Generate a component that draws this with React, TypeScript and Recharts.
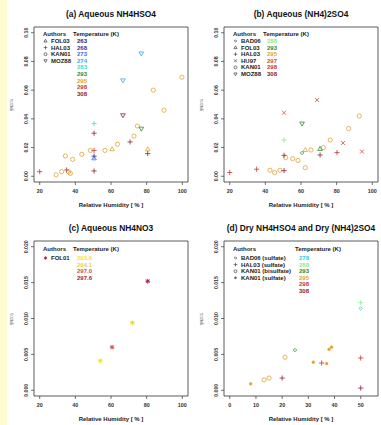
import React from 'react';
import { ScatterChart, Scatter, XAxis, YAxis, ReferenceArea } from 'recharts';

type Pt = { rh: number; g: number; t: number };

// ---------- colours by temperature ----------
const tempColorList: [number, string][] = [
  [263, '#2a2a72'], [268, '#2f3b9c'], [273, '#3f72d8'], [274, '#3aa6e0'], [278, '#38c8e0'],
  [283, '#3de0d0'], [288, '#90ea90'], [293, '#2d8a2d'], [295, '#e2a32e'], [297, '#d44a44'],
  [298, '#c03838'], [308, '#8a2438'], [293.6, '#f0e03a'], [294.1, '#e6d24a'], [297.0, '#d0483a'],
  [297.6, '#a8203c'],
];
const colorOf = (t: number) => (tempColorList.find((c) => c[0] === t) || [0, '#333'])[1];

// ---------- panel (a) Aqueous NH4HSO4 ----------
const aFOL03: Pt[] = [
  { rh: 60.6, g: 0.0188, t: 295 }, { rh: 80.6, g: 0.0188, t: 295 }, { rh: 50.5, g: 0.0125, t: 273 },
];
const aHAL03: Pt[] = [
  { rh: 50.5, g: 0.0367, t: 283 }, { rh: 50.5, g: 0.030, t: 308 }, { rh: 70.7, g: 0.0239, t: 308 },
  { rh: 80.6, g: 0.0158, t: 308 }, { rh: 50.5, g: 0.018, t: 298 }, { rh: 50.5, g: 0.014, t: 268 },
  { rh: 20, g: 0.0032, t: 298 }, { rh: 35.1, g: 0.0044, t: 298 }, { rh: 50.5, g: 0.0037, t: 308 },
];
const aKAN01: Pt[] = [
  { rh: 99.8, g: 0.069, t: 295 }, { rh: 83.7, g: 0.060, t: 295 }, { rh: 89.7, g: 0.046, t: 295 },
  { rh: 74.8, g: 0.035, t: 295 }, { rh: 72.9, g: 0.028, t: 295 }, { rh: 63.6, g: 0.0223, t: 295 },
  { rh: 56.6, g: 0.018, t: 295 }, { rh: 48.4, g: 0.018, t: 295 }, { rh: 43.6, g: 0.0153, t: 295 },
  { rh: 38.5, g: 0.0118, t: 295 }, { rh: 34.4, g: 0.0142, t: 295 }, { rh: 32.3, g: 0.0032, t: 295 },
  { rh: 29.2, g: 0.001, t: 295 }, { rh: 36.2, g: 0.003, t: 295 }, { rh: 37.2, g: 0.002, t: 295 },
];
const aMOZ88: Pt[] = [
  { rh: 77.0, g: 0.0856, t: 274 }, { rh: 66.7, g: 0.0668, t: 274 }, { rh: 66.7, g: 0.0425, t: 308 },
  { rh: 77.0, g: 0.0332, t: 293 },
];

// ---------- panel (b) Aqueous (NH4)2SO4 ----------
const bBAD06: Pt[] = [{ rh: 60.6, g: 0.0162, t: 293 }];
const bFOL03: Pt[] = [{ rh: 62.4, g: 0.0183, t: 295 }, { rh: 70.7, g: 0.019, t: 293 }];
const bHAL03: Pt[] = [
  { rh: 50.5, g: 0.0253, t: 288 }, { rh: 80.2, g: 0.0165, t: 298 }, { rh: 70.7, g: 0.0148, t: 308 },
  { rh: 50.5, g: 0.0146, t: 308 }, { rh: 50.5, g: 0.0039, t: 308 }, { rh: 35.1, g: 0.0049, t: 298 },
  { rh: 20, g: 0.0026, t: 298 },
];
const bHU97: Pt[] = [
  { rh: 69.0, g: 0.0531, t: 297 }, { rh: 50.5, g: 0.0443, t: 297 }, { rh: 83.6, g: 0.0232, t: 297 },
  { rh: 94.2, g: 0.0172, t: 297 },
];
const bKAN01: Pt[] = [
  { rh: 92.7, g: 0.042, t: 295 }, { rh: 86.7, g: 0.0332, t: 295 }, { rh: 76.4, g: 0.0253, t: 295 },
  { rh: 72.5, g: 0.020, t: 295 }, { rh: 65.6, g: 0.0183, t: 295 }, { rh: 51.4, g: 0.013, t: 295 },
  { rh: 55.3, g: 0.0123, t: 295 }, { rh: 58.3, g: 0.011, t: 295 }, { rh: 62.4, g: 0.006, t: 295 },
  { rh: 42.6, g: 0.0042, t: 295 }, { rh: 45.2, g: 0.0026, t: 295 }, { rh: 48.2, g: 0.0042, t: 295 },
];
const bMOZ88: Pt[] = [{ rh: 60.6, g: 0.0367, t: 293 }];

// ---------- panel (c) Aqueous NH4NO3 ----------
const cFOL01: Pt[] = [
  { rh: 80.6, g: 0.0152, t: 297.6 }, { rh: 72.0, g: 0.0094, t: 294.1 }, { rh: 60.6, g: 0.006, t: 297.0 },
  { rh: 54.0, g: 0.0041, t: 293.6 },
];

// ---------- panel (d) Dry ----------
const dBAD06: Pt[] = [{ rh: 50, g: 0.0114, t: 278 }, { rh: 24.9, g: 0.0056, t: 293 }];
const dHAL03: Pt[] = [
  { rh: 50, g: 0.0122, t: 288 }, { rh: 50, g: 0.0045, t: 298 }, { rh: 50, g: 0.0003, t: 308 },
  { rh: 20, g: 0.0017, t: 308 }, { rh: 35.1, g: 0.0038, t: 298 },
];
const dKAN01bi: Pt[] = [
  { rh: 13.1, g: 0.00145, t: 295 }, { rh: 15, g: 0.0017, t: 295 }, { rh: 21.1, g: 0.0046, t: 295 },
];
const dKAN01su: Pt[] = [
  { rh: 31.9, g: 0.0039, t: 295 }, { rh: 37, g: 0.0037, t: 295 }, { rh: 37.9, g: 0.0057, t: 295 },
  { rh: 38.9, g: 0.006, t: 295 }, { rh: 8, g: 0.0009, t: 295 },
];

// ---------- axis ticks ----------
const rhTicks = [20, 40, 60, 80, 100];
const rhTicksDry = [0, 10, 20, 30, 40, 50];
const gTicksBig = [0, 0.02, 0.04, 0.06, 0.08, 0.1];
const gTicksSmall = [0, 0.005, 0.01, 0.015, 0.02];

// ---------- legends ----------
const aAuthors = ['FOL03', 'HAL03', 'KAN01', 'MOZ88'];
const aTemps = ['263', '268', '273', '274', '283', '293', '295', '298', '308'];
const bAuthors = ['BAD06', 'FOL03', 'HAL03', 'HU97', 'KAN01', 'MOZ88'];
const bTemps = ['288', '293', '295', '297', '298', '308'];
const cAuthors = ['FOL01'];
const cTemps = ['293.6', '294.1', '297.0', '297.6'];
const dAuthors = ['BAD06 (sulfate)', 'HAL03 (sulfate)', 'KAN01 (bisulfate)', 'KAN01 (sulfate)'];
const dTemps = ['278', '288', '293', '295', '298', '308'];

const FONT = '"Liberation Sans", Arial, sans-serif';
const INK = '#333';

function Mark({ kind, cx, cy, color, k = 1 }: { kind: string; cx: number; cy: number; color: string; k?: number }) {
  const sw = 0.8;
  switch (kind) {
    case 'circle':
      return <circle cx={cx} cy={cy} r={2.1 * k} fill="none" stroke={color} strokeWidth={sw} />;
    case 'tri':
      return <path d={`M${cx},${cy - 2.5 * k}L${cx + 2.3 * k},${cy + 1.5 * k}L${cx - 2.3 * k},${cy + 1.5 * k}Z`} fill="none" stroke={color} strokeWidth={sw} />;
    case 'tridown':
      return <path d={`M${cx},${cy + 2.5 * k}L${cx + 2.3 * k},${cy - 1.5 * k}L${cx - 2.3 * k},${cy - 1.5 * k}Z`} fill="none" stroke={color} strokeWidth={sw} />;
    case 'plus':
      return <path d={`M${cx - 2.6 * k},${cy}H${cx + 2.6 * k}M${cx},${cy - 2.6 * k}V${cy + 2.6 * k}`} fill="none" stroke={color} strokeWidth={sw} />;
    case 'cross':
      return <path d={`M${cx - 2 * k},${cy - 2 * k}L${cx + 2 * k},${cy + 2 * k}M${cx - 2 * k},${cy + 2 * k}L${cx + 2 * k},${cy - 2 * k}`} fill="none" stroke={color} strokeWidth={sw} />;
    case 'diamond':
      return <path d={`M${cx},${cy - 1.7 * k}L${cx + 1.7 * k},${cy}L${cx},${cy + 1.7 * k}L${cx - 1.7 * k},${cy}Z`} fill="none" stroke={color} strokeWidth={sw} />;
    case 'star':
      return <path d={`M${cx - 2.3 * k},${cy}H${cx + 2.3 * k}M${cx},${cy - 2.3 * k}V${cy + 2.3 * k}M${cx - 1.7 * k},${cy - 1.7 * k}L${cx + 1.7 * k},${cy + 1.7 * k}M${cx - 1.7 * k},${cy + 1.7 * k}L${cx + 1.7 * k},${cy - 1.7 * k}`} fill="none" stroke={color} strokeWidth={1} />;
    case 'dot':
    default:
      return <circle cx={cx} cy={cy} r={1.4 * k} fill={color} stroke={color} strokeWidth={0.5} />;
  }
}

type SeriesDef = { kind: string; data: Pt[] };
type PanelProps = {
  left: number; top: number; title: string;
  xDomain: [number, number]; xTicks: number[];
  yDomain: [number, number]; yTicks: number[]; yDigits: number;
  series: SeriesDef[];
  authors: string[]; authorKinds: string[]; authorColors?: string[]; temps: string[];
  tempX: number; rowStart: number; headerY: number;
};

const W = 190;
const H = 212;

function Panel(p: PanelProps) {
  const XTick = (props: any) => (
    <text x={props.x} y={props.y + 6} textAnchor="middle" fontSize={5.4} fontWeight="bold" fill={INK} fontFamily={FONT}>
      {props.payload.value}
    </text>
  );
  const YTick = (props: any) => {
    const x = props.x - 1;
    return (
      <text x={x} y={props.y} transform={`rotate(-90, ${x}, ${props.y})`} textAnchor="middle" fontSize={5.2} fontWeight="bold" fill={INK} fontFamily={FONT}>
        {Number(props.payload.value).toFixed(p.yDigits)}
      </text>
    );
  };
  const rowH = 6.6;
  return (
    <div style={{ position: 'absolute', left: p.left, top: p.top, width: W, height: H }}>
      <ScatterChart width={W} height={H} margin={{ top: 27, right: 2, bottom: 0, left: 0 }}>
        <XAxis type="number" dataKey="rh" domain={p.xDomain} ticks={p.xTicks} allowDataOverflow
          axisLine={false} tickLine={{ stroke: INK, strokeWidth: 0.7 }} tickSize={3} height={30} tick={XTick} interval={0} />
        <YAxis type="number" dataKey="g" domain={p.yDomain} ticks={p.yTicks} allowDataOverflow
          axisLine={false} tickLine={{ stroke: INK, strokeWidth: 0.7 }} tickSize={3} width={34} tick={YTick} interval={0} />
        <ReferenceArea x1={p.xDomain[0]} x2={p.xDomain[1]} y1={p.yDomain[0]} y2={p.yDomain[1]}
          fill="none" stroke={INK} strokeWidth={0.8} fillOpacity={0} ifOverflow="visible" />
        {p.series.map((s, i) => (
          <Scatter key={i} data={s.data} isAnimationActive={false}
            shape={(sp: any) => (
              <g><Mark kind={s.kind} cx={sp.cx} cy={sp.cy} color={colorOf(sp.payload ? sp.payload.t : 0)} /></g>
            )} />
        ))}
      </ScatterChart>
      <svg width={W} height={H} style={{ position: 'absolute', left: 0, top: 0, pointerEvents: 'none' }}>
        <text x={111} y={17} textAnchor="middle" fontSize={8.4} fontWeight="bold" fill="#111" fontFamily={FONT}>{p.title}</text>
        <text x={111} y={207} textAnchor="middle" fontSize={6} fontWeight="bold" fill="#222" fontFamily={FONT}>Relative Humidity [ % ]</text>
        <text x={13} y={105} transform="rotate(-90, 13, 105)" textAnchor="middle" fontSize={4.6} fill="#555" fontFamily={FONT}>
          γ<tspan fontSize={3.8}>N2O5</tspan>
        </text>
        <text x={43} y={p.headerY} fontSize={6} fontWeight="bold" fill="#222" fontFamily={FONT}>Authors</text>
        <text x={p.tempX - 4} y={p.headerY} fontSize={6} fontWeight="bold" fill="#222" fontFamily={FONT}>Temperature (K)</text>
        {p.authors.map((a, i) => (
          <g key={a}>
            <Mark kind={p.authorKinds[i]} cx={45.5} cy={p.rowStart + i * rowH - 2} k={0.7}
              color={p.authorColors ? p.authorColors[i] : '#555'} />
            <text x={51} y={p.rowStart + i * rowH} fontSize={6} fontWeight="bold" fill="#222" fontFamily={FONT}>{a}</text>
          </g>
        ))}
        {p.temps.map((t, i) => (
          <text key={t} x={p.tempX} y={p.rowStart + i * rowH} fontSize={6} fontWeight="bold" fill={colorOf(Number(t))} fontFamily={FONT}>{t}</text>
        ))}
      </svg>
    </div>
  );
}

export default function App() {
  return (
    <div style={{ position: 'absolute', left: 0, top: 0, width: 381, height: 425, background: '#fff', overflow: 'hidden' }}>
      <div style={{ position: 'absolute', left: 0, top: 0, width: 7, height: 425, background: '#fdfbd0' }} />
      <Panel left={0} top={0} title="(a) Aqueous NH4HSO4"
        xDomain={[16.8, 103.2]} xTicks={rhTicks} yDomain={[-0.004, 0.104]} yTicks={gTicksBig} yDigits={2}
        series={[
          { kind: 'circle', data: aKAN01 }, { kind: 'tri', data: aFOL03 },
          { kind: 'tridown', data: aMOZ88 }, { kind: 'plus', data: aHAL03 },
        ]}
        authors={aAuthors} authorKinds={['tri', 'plus', 'circle', 'tridown']} temps={aTemps}
        tempX={77} rowStart={43} headerY={36} />
      <Panel left={190} top={0} title="(b) Aqueous (NH4)2SO4"
        xDomain={[16.8, 103.2]} xTicks={rhTicks} yDomain={[-0.004, 0.104]} yTicks={gTicksBig} yDigits={2}
        series={[
          { kind: 'circle', data: bKAN01 }, { kind: 'tri', data: bFOL03 }, { kind: 'diamond', data: bBAD06 },
          { kind: 'tridown', data: bMOZ88 }, { kind: 'cross', data: bHU97 }, { kind: 'plus', data: bHAL03 },
        ]}
        authors={bAuthors} authorKinds={['diamond', 'tri', 'plus', 'cross', 'circle', 'tridown']} temps={bTemps}
        tempX={77} rowStart={43} headerY={36} />
      <Panel left={0} top={214} title="(c) Aqueous NH4NO3"
        xDomain={[16.8, 103.2]} xTicks={rhTicks} yDomain={[-0.0008, 0.0208]} yTicks={gTicksSmall} yDigits={3}
        series={[{ kind: 'star', data: cFOL01 }]}
        authors={cAuthors} authorKinds={['star']} authorColors={['#a8203c']} temps={cTemps}
        tempX={77} rowStart={46} headerY={37} />
      <Panel left={190} top={214} title="(d) Dry NH4HSO4 and Dry (NH4)2SO4"
        xDomain={[-2.2, 56.6]} xTicks={rhTicksDry} yDomain={[-0.0008, 0.0208]} yTicks={gTicksSmall} yDigits={3}
        series={[
          { kind: 'circle', data: dKAN01bi }, { kind: 'dot', data: dKAN01su },
          { kind: 'diamond', data: dBAD06 }, { kind: 'plus', data: dHAL03 },
        ]}
        authors={dAuthors} authorKinds={['diamond', 'plus', 'circle', 'dot']} temps={dTemps}
        tempX={109} rowStart={46} headerY={37} />
    </div>
  );
}
